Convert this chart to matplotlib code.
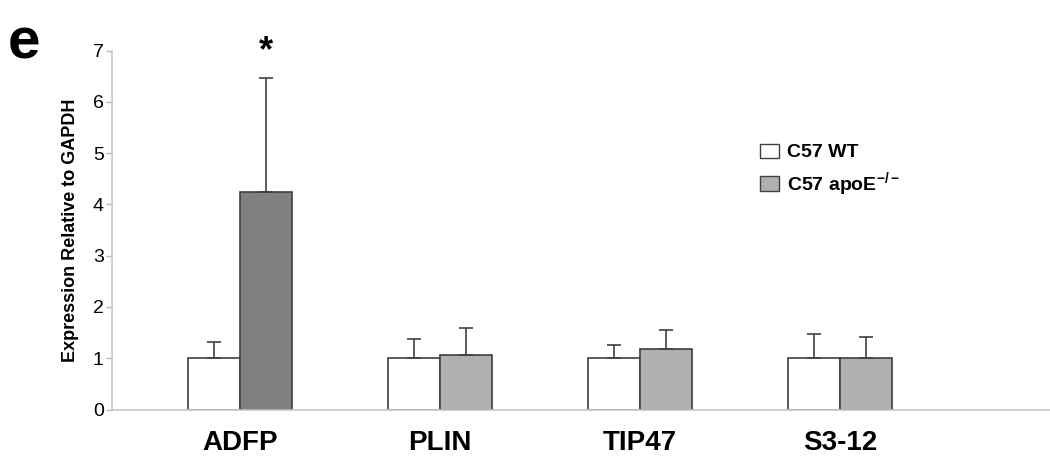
import numpy as np
import matplotlib
matplotlib.use('Agg')
import matplotlib.pyplot as plt
from matplotlib.patches import Patch

plt.rcParams['font.family'] = ['Liberation Sans', 'DejaVu Sans']
plt.rcParams['mathtext.fontset'] = 'custom'
plt.rcParams['mathtext.rm'] = 'Liberation Sans'
plt.rcParams['mathtext.bf'] = 'Liberation Sans:bold'
plt.rcParams['mathtext.default'] = 'bf'

# data
genes = ['ADFP', 'PLIN', 'TIP47', 'S3-12']
wt_mean = [1.0, 1.0, 1.0, 1.0]
wt_err = [0.31, 0.37, 0.25, 0.47]
apoe_mean = [4.25, 1.06, 1.18, 1.0]
apoe_err = [2.22, 0.53, 0.38, 0.42]
significant = [True, False, False, False]

wt_color = 'white'
apoe_colors = ['#808080', '#b0b0b0', '#b0b0b0', '#b0b0b0']
edge = '#404040'

x = np.arange(len(genes))
w = 0.26

fig = plt.figure(figsize=(10.5, 4.65), dpi=100)
ax = fig.add_axes([112 / 1050, 1 - 409.5 / 465, 1 - 112 / 1050, (409.5 - 50.7) / 465])

ax.bar(x - w / 2, wt_mean, w, color=wt_color, edgecolor=edge, linewidth=1.2,
       yerr=[np.zeros(len(x)), wt_err], capsize=4.7,
       error_kw=dict(ecolor=edge, elinewidth=1.2, capthick=1.2))
ax.bar(x + w / 2, apoe_mean, w, color=apoe_colors, edgecolor=edge, linewidth=1.2,
       yerr=[np.zeros(len(x)), apoe_err], capsize=4.7,
       error_kw=dict(ecolor=edge, elinewidth=1.2, capthick=1.2))

for i in range(len(x)):
    if significant[i]:
        ax.text(x[i] + w / 2, apoe_mean[i] + apoe_err[i] + 0.17, '*',
                ha='center', va='bottom', fontsize=26, fontweight='bold')

ax.set_xlim(-0.64, 4.05)
ax.set_ylim(0, 7)
ax.set_yticks(range(8))
ax.set_xticks(x)
ax.set_xticklabels(genes, fontsize=20, fontweight='bold')
ax.tick_params(axis='x', length=0, pad=15)
ax.tick_params(axis='y', length=4, width=1, color='#b8b8b8', labelsize=14, pad=2)

for s in ['top', 'right']:
    ax.spines[s].set_visible(False)
for s in ['left', 'bottom']:
    ax.spines[s].set_color('#c8c8c8')
    ax.spines[s].set_linewidth(1.2)

ax.set_ylabel('Expression Relative to GAPDH', fontsize=13, fontweight='bold', labelpad=10)

handles = [Patch(facecolor=wt_color, edgecolor=edge, linewidth=1.0),
           Patch(facecolor='#b0b0b0', edgecolor=edge, linewidth=1.0)]
ax.legend(handles, ['C57 WT', r'C57 apoE$^{-/-}$'], loc='upper left',
          bbox_to_anchor=(0.672, 0.79), frameon=False,
          prop=dict(size=14, weight='bold'), handlelength=1.0, handleheight=0.75,
          handletextpad=0.4, labelspacing=0.45)

fig.text(0.007, 0.965, 'e', fontsize=42, fontweight='bold', va='top', ha='left')

fig.savefig('out.png', dpi=100)
